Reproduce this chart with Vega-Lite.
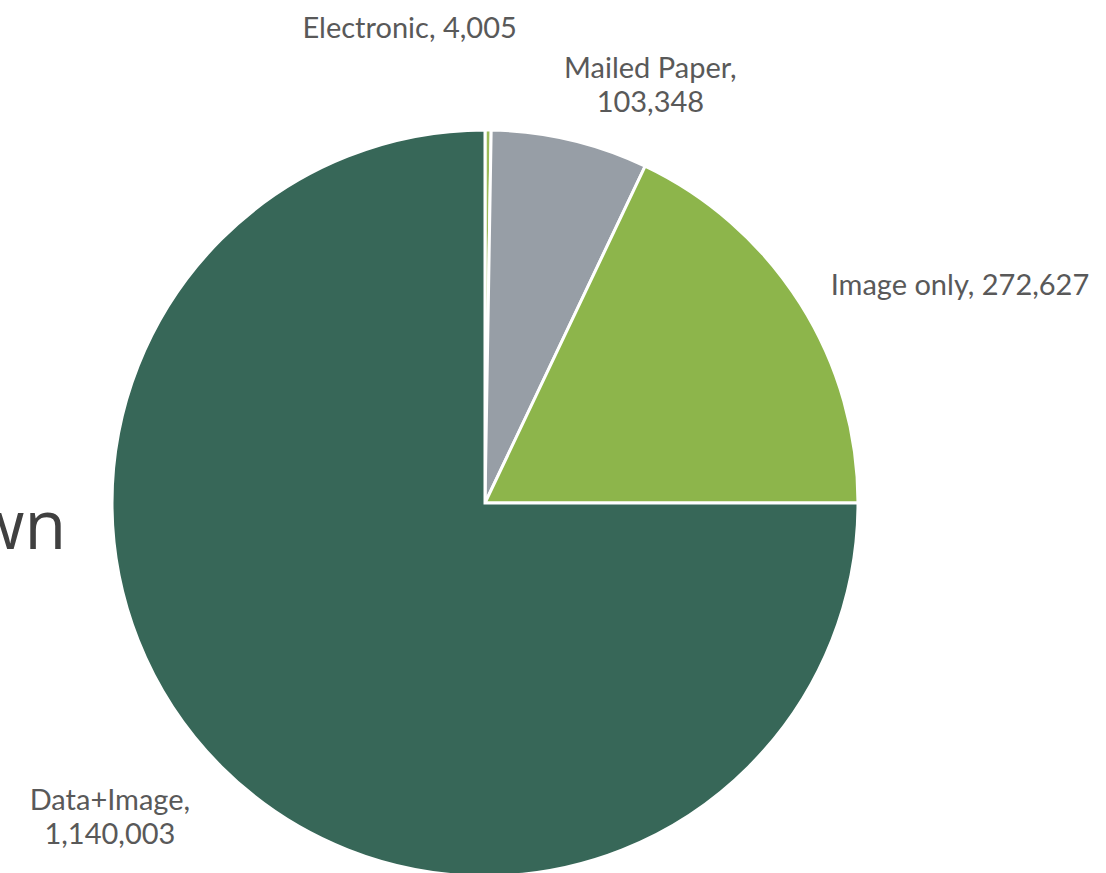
{
  "$schema": "https://vega.github.io/schema/vega-lite/v6.json",
  "autosize": {"type": "none"},
  "width": 746,
  "height": 746,
  "padding": {"left": 112, "top": 130, "right": 248, "bottom": 0},
  "background": "white",
  "title": {
    "text": "wn",
    "orient": "left",
    "angle": 0,
    "align": "right",
    "baseline": "alphabetic",
    "anchor": "middle",
    "offset": -131,
    "dy": 46,
    "fontSize": 68,
    "font": "Open Sans",
    "fontWeight": "normal",
    "color": "#404040"
  },
  "data": {
    "values": [
      {"category": "Electronic", "value": 4005, "label": ["Electronic, 4,005"]},
      {"category": "Mailed Paper", "value": 103348, "label": ["Mailed Paper,", "103,348"]},
      {"category": "Image only", "value": 272627, "label": ["Image only, 272,627"]},
      {"category": "Data+Image", "value": 1140003, "label": ["Data+Image,", "1,140,003"]}
    ]
  },
  "encoding": {
    "theta": {"field": "value", "type": "quantitative", "stack": true},
    "order": {"field": "value", "type": "quantitative", "sort": "ascending"}
  },
  "layer": [
    {
      "mark": {"type": "arc", "outerRadius": 373, "stroke": "white", "strokeWidth": 3},
      "encoding": {
        "color": {
          "field": "category",
          "type": "nominal",
          "scale": {
            "domain": ["Electronic", "Mailed Paper", "Image only", "Data+Image"],
            "range": ["#9BBB59", "#979EA6", "#8DB54B", "#376758"]
          },
          "legend": null
        }
      }
    },
    {
      "mark": {"type": "text", "radius": 440, "dx": -79, "dy": -34, "font": "Lato", "fontSize": 29, "color": "#595959", "align": "center", "baseline": "middle", "lineHeight": 34},
      "encoding": {
        "text": {"condition": {"test": "datum.category === 'Electronic'", "field": "label"}, "value": ""}
      }
    },
    {
      "mark": {"type": "text", "radius": 440, "dx": 65, "dy": -6, "font": "Lato", "fontSize": 29, "color": "#595959", "align": "center", "baseline": "middle", "lineHeight": 34},
      "encoding": {
        "text": {"condition": {"test": "datum.category === 'Mailed Paper'", "field": "label"}, "value": ""}
      }
    },
    {
      "mark": {"type": "text", "radius": 440, "dx": 103, "dy": 18, "font": "Lato", "fontSize": 29, "color": "#595959", "align": "center", "baseline": "middle", "lineHeight": 34},
      "encoding": {
        "text": {"condition": {"test": "datum.category === 'Image only'", "field": "label"}, "value": ""}
      }
    },
    {
      "mark": {"type": "text", "radius": 440, "dx": -64, "dy": -13, "font": "Lato", "fontSize": 29, "color": "#595959", "align": "center", "baseline": "middle", "lineHeight": 34},
      "encoding": {
        "text": {"condition": {"test": "datum.category === 'Data+Image'", "field": "label"}, "value": ""}
      }
    }
  ],
  "config": {"view": {"stroke": null}}
}
